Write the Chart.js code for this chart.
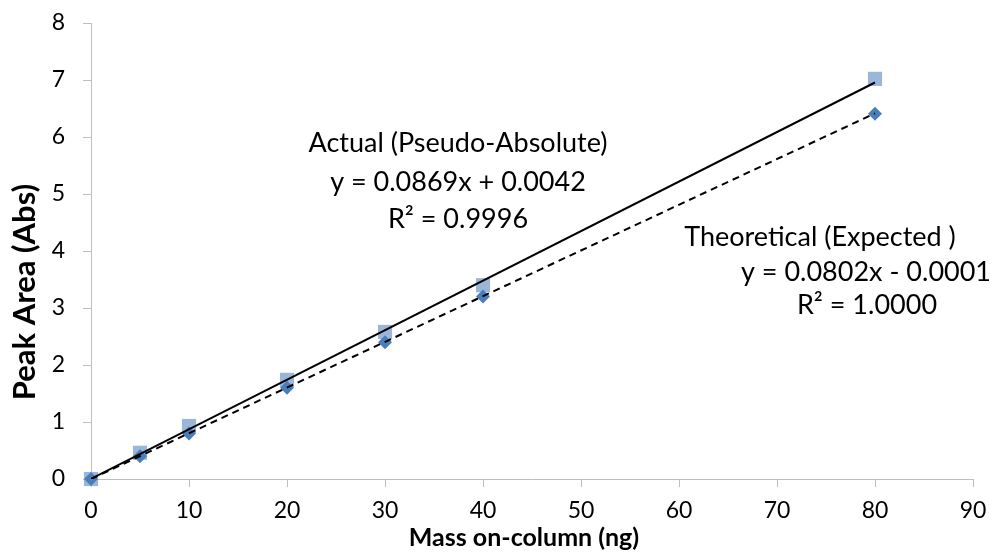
<!DOCTYPE html>
<html>
<head>
<meta charset="utf-8">
<script src="https://cdn.jsdelivr.net/npm/chart.js@4"></script>
<style>
  html, body { margin: 0; padding: 0; background: #fff; }
  #wrap { width: 1000px; height: 554px; }
</style>
</head>
<body>
<div id="wrap"><canvas id="peakChart" width="1000" height="554"></canvas></div>
<script>
// masses on-column (ng)
const massValues = [0, 5, 10, 20, 30, 40, 80];
// peak areas
const actualAreas = [0, 0.46, 0.93, 1.74, 2.58, 3.40, 7.02];
const theoreticalAreas = [0, 0.40, 0.80, 1.60, 2.40, 3.20, 6.41];
// trendline end points (x = 0 and x = 80)
const fitX = [0, 80];
const actualFitY = [0.0042, 6.956];
const theoreticalFitY = [-0.0001, 6.415];

const actualLabel = ['Actual (Pseudo-Absolute)', 'y = 0.0869x + 0.0042', 'R² = 0.9996'];
const theoreticalLabel = ['Theoretical (Expected )', 'y = 0.0802x - 0.0001', 'R² = 1.0000'];
const xTitle = 'Mass on-column (ng)';
const yTitle = 'Peak Area (Abs)';

const toPoints = (xs, ys) => xs.map((x, i) => ({ x: x, y: ys[i] }));

const FONT = 'Lato, "Open Sans", sans-serif';
const AXIS_COLOR = '#bfbfbf';

// trendline labels and axis titles, placed like the text boxes of the original
const labelPlugin = {
    id: 'trendLabels',
    afterDatasetsDraw(chart) {
        const c = chart.ctx;
        c.save();
        c.fillStyle = '#000';
        c.textAlign = 'center';
        c.textBaseline = 'middle';
        c.font = '27px ' + FONT;
        const a = [[458, 143], [458, 182], [458, 219]];
        actualLabel.forEach((t, i) => c.fillText(t, a[i][0], a[i][1]));
        const b = [[820, 237], [866, 272], [867, 305]];
        theoreticalLabel.forEach((t, i) => c.fillText(t, b[i][0], b[i][1]));

        c.font = 'bold 25px ' + FONT;
        c.fillText(xTitle, 524, 538);
        c.translate(25, 292);
        c.rotate(-Math.PI / 2);
        c.font = 'bold 31px ' + FONT;
        c.fillText(yTitle, 0, 0);
        c.restore();
    }
};

const peakChart = new Chart(document.getElementById('peakChart').getContext('2d'), {
    type: 'scatter',
    data: {
        datasets: [
            {
                label: 'Actual fit',
                type: 'line',
                data: toPoints(fitX, actualFitY),
                borderColor: '#000',
                borderWidth: 2,
                pointRadius: 0,
                fill: false
            },
            {
                label: 'Theoretical fit',
                type: 'line',
                data: toPoints(fitX, theoreticalFitY),
                borderColor: '#000',
                borderWidth: 2,
                borderDash: [7, 5],
                pointRadius: 0,
                fill: false
            },
            {
                label: 'Theoretical',
                data: toPoints(massValues, theoreticalAreas),
                pointStyle: 'rectRot',
                pointRadius: 7,
                backgroundColor: '#4a7ebb',
                borderColor: '#4a7ebb',
                borderWidth: 0,
                clip: false
            },
            {
                label: 'Actual',
                data: toPoints(massValues, actualAreas),
                pointStyle: 'rect',
                pointRadius: 10,
                backgroundColor: 'rgba(149,179,215,0.95)',
                borderColor: 'rgba(149,179,215,0.95)',
                borderWidth: 0,
                clip: false
            }
        ]
    },
    options: {
        responsive: false,
        animation: false,
        layout: { padding: { top: 23, right: 27, left: 0, bottom: 0 } },
        plugins: {
            legend: { display: false },
            tooltip: { enabled: false }
        },
        scales: {
            x: {
                type: 'linear',
                min: 0,
                max: 90,
                ticks: { stepSize: 10, color: '#000', font: { family: FONT, size: 23 }, padding: 10 },
                grid: { drawOnChartArea: false, drawTicks: true, tickLength: 8, color: AXIS_COLOR },
                border: { display: true, color: AXIS_COLOR },
                afterFit(scale) { scale.height = 75; }
            },
            y: {
                min: 0,
                max: 8,
                ticks: { stepSize: 1, color: '#000', font: { family: FONT, size: 23 }, padding: 18 },
                grid: { drawOnChartArea: false, drawTicks: true, tickLength: 8, color: AXIS_COLOR },
                border: { display: true, color: AXIS_COLOR },
                afterFit(scale) {
                    scale.width = 91;
                    scale.paddingTop = 12;
                    scale.paddingBottom = 12;
                }
            }
        }
    },
    plugins: [labelPlugin]
});
</script>
</body>
</html>
